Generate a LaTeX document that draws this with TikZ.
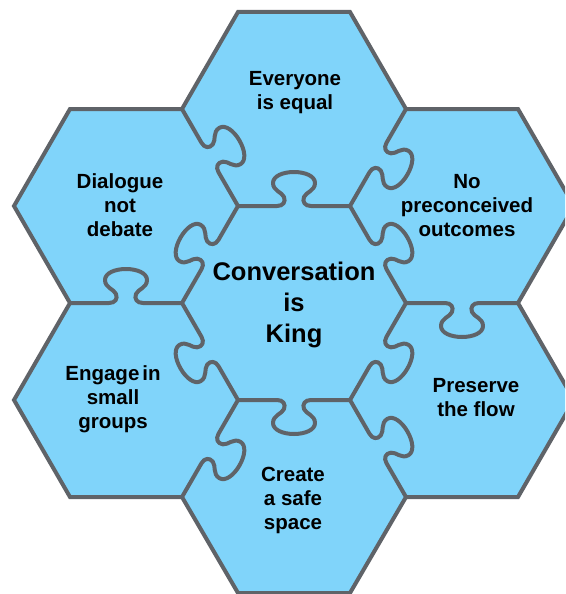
\documentclass[tikz,border=0pt]{standalone}
\usepackage{fontspec}
\setmainfont{Liberation Sans}
\definecolor{hexfill}{RGB}{128,212,250}
\definecolor{hexline}{RGB}{95,99,104}
\tikzset{
  edgeline/.style={draw=hexline, line width=4pt, line join=round, line cap=round},
  outline/.style={draw=hexline, line width=4pt, line join=miter},
  lbl/.style={font=\bfseries\fontsize{20.5}{24}\selectfont, align=center, text=black, inner sep=0pt},
  bigl/.style={font=\bfseries\fontsize{25.5}{31}\selectfont, align=center, text=black, inner sep=0pt}
}
\newcommand\knob[4]{%
  \pgfmathsetmacro\kmx{(#1+#3)/2}%
  \pgfmathsetmacro\kmy{-(#2+#4)/2}%
  \pgfmathsetmacro\kL{veclen(#3-#1,#4-#2)}%
  \pgfmathsetmacro\kux{(#3-#1)/\kL}%
  \pgfmathsetmacro\kuy{-(#4-#2)/\kL}%
  \pgfmathsetmacro\knx{-\kuy}%
  \begin{scope}[shift={(\kmx pt,\kmy pt)}, x={(\kux pt,\kuy pt)}, y={(\knx pt,\kux pt)}]
    \draw[edgeline] (-56,0) -- (-17,0)
      .. controls (-11,0) and (-8,4) .. (-10,9)
      .. controls (-12,14) and (-21,15) .. (-21,23)
      .. controls (-21,30) and (-11,34) .. (0,34)
      .. controls (11,34) and (21,30) .. (21,23)
      .. controls (21,15) and (12,14) .. (10,9)
      .. controls (8,4) and (11,0) .. (17,0)
      -- (56,0);
  \end{scope}}
\begin{document}
\begin{tikzpicture}[x=1pt,y=-1pt]
\useasboundingbox (0,0) rectangle (565,594);
\begin{scope}
\clip (0,0) rectangle (565,594);
% filled union of the seven hexagons
\path[fill=hexfill] (238,12) -- (350,12) -- (406,109) -- (518,109) -- (574,206)
  -- (518,303) -- (574,400) -- (518,497) -- (406,497) -- (350,593) -- (238,593)
  -- (182,497) -- (70,497) -- (14,400) -- (70,303) -- (14,206) -- (70,109)
  -- (182,109) -- cycle;
% inner edges with puzzle knobs
\knob{238}{206}{350}{206}
\knob{350}{206}{406}{303}
\knob{406}{303}{350}{400}
\knob{350}{400}{238}{400}
\knob{238}{400}{182}{303}
\knob{182}{303}{238}{206}
\knob{406}{109}{350}{206}
\knob{518}{303}{406}{303}
\knob{350}{400}{406}{497}
\knob{238}{400}{182}{497}
\knob{70}{303}{182}{303}
\knob{182}{109}{238}{206}
% outer boundary
\path[outline] (238,12) -- (350,12) -- (406,109) -- (518,109) -- (574,206)
  -- (518,303) -- (574,400) -- (518,497) -- (406,497) -- (350,593) -- (238,593)
  -- (182,497) -- (70,497) -- (14,400) -- (70,303) -- (14,206) -- (70,109)
  -- (182,109) -- cycle;
\end{scope}
% labels
\node[bigl] (king) at (294,305) {Conversation\\is\\King};
\node[lbl] (equal) at (295,93) {Everyone\\is equal};
\node[lbl] (debate) at (120,205) {Dialogue\\not\\debate};
\node[lbl] (outcomes) at (467,206) {No\\preconceived\\outcomes};
\node[lbl] (groups) at (113,399) {Engage\kern3pt in\\small\\groups};
\node[lbl] (flow) at (476,398) {Preserve\\the flow};
\node[lbl] (space) at (293,500) {Create\\a safe\\space};
\end{tikzpicture}
\end{document}
